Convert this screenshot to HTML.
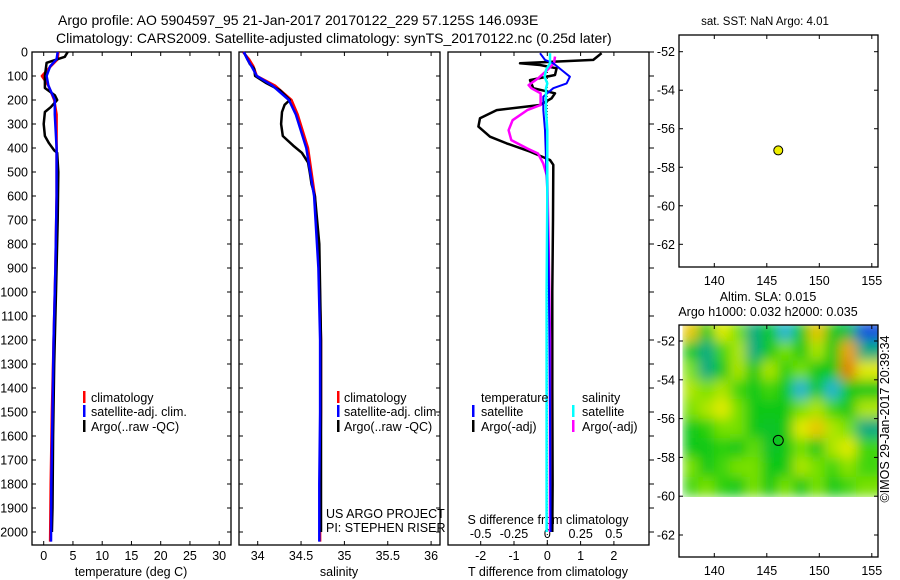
<!DOCTYPE html>
<html><head><meta charset="utf-8"><style>
html,body{margin:0;padding:0;background:#fff;}
svg{display:block;font-family:"Liberation Sans",sans-serif;}
text{fill:#000;}
</style></head><body>
<svg id="fig" width="900" height="580" viewBox="0 0 900 580">
<defs>
<filter id="smooth" x="0" y="0" width="1" height="1"><feGaussianBlur stdDeviation="6" edgeMode="duplicate"/></filter>
<clipPath id="slaClip"><rect x="679" y="325" width="199" height="172"/></clipPath>
</defs>
<text x="58" y="25" font-size="14">Argo profile: AO 5904597_95 21-Jan-2017 20170122_229 57.125S 146.093E</text>
<text x="56" y="43" font-size="14">Climatology: CARS2009. Satellite-adjusted climatology: synTS_20170122.nc (0.25d later)</text>
<g id="g"></g>
</svg>
<script>
// ---------- data ----------
const depthTicks=[0,100,200,300,400,500,600,700,800,900,1000,1100,1200,1300,1400,1500,1600,1700,1800,1900,2000];
const tempTicks=[0,5,10,15,20,25,30];
const salTicks=[34,34.5,35,35.5,36];
const tdiffTicks=[-2,-1,0,1,2];
const sdiffTicks=[-0.5,-0.25,0,0.25,0.5];
const sdiffLabels=["-0.5","-0.25","0","0.25","0.5"];
const lonTicks=[140,145,150,155];
const latTicks=[-52,-54,-56,-58,-60,-62];

const climDepth=[0,30,60,100,140,200,260,400,600,900,1200,1500,1800,2040];
const tempClim=[2.5,2.4,1.2,-0.3,0.8,1.8,2.2,2.2,2.2,2.0,1.7,1.4,1.2,1.1];
const tempSat=[2.4,2.2,1.1,0.5,0.8,1.9,1.9,2.2,2.2,2.0,1.7,1.5,1.3,1.25];
const argoDepth=[0,20,45,100,150,180,200,230,250,300,350,380,410,420,500,700,1000,1300,1600,1900,2000];
const tempArgo=[4.1,3.6,0.5,0.2,0.2,1.9,2.3,1.2,0.2,0.0,0.2,0.9,1.8,2.3,2.5,2.4,2.1,1.8,1.6,1.5,1.4];
const salClim=[33.83,33.9,33.95,33.99,34.2,34.39,34.46,34.58,34.66,34.71,34.73,34.73,34.72,34.72];
const salSat=[33.84,33.88,33.93,33.99,34.17,34.36,34.44,34.56,34.65,34.70,34.72,34.72,34.71,34.71];
const salArgoDepth=[0,50,70,100,130,160,200,220,250,300,350,390,420,460,500,550,600,800,1200,1600,2000];
const salArgo=[33.84,33.91,33.96,33.97,34.1,34.26,34.37,34.31,34.28,34.27,34.29,34.41,34.51,34.58,34.6,34.62,34.66,34.71,34.73,34.73,34.73];

const diffDepth=[5,33,47,54,68,96,117,151,172,193,221,242,276,311,353,381,415,450,470,700,1000,1400,1800,2000];
const tDiffArgo=[1.63,1.38,-0.82,-0.22,0.28,0.23,-0.52,-0.42,0.23,0.13,-0.22,-1.52,-2.02,-2.07,-1.72,-1.22,-0.52,0.08,0.18,0.17,0.15,0.15,0.16,0.15];
const sDiffDepth=[19,47,75,110,138,151,172,221,242,284,326,367,402,423,465,521,800,1200,1600,2000];
const sDiffArgo=[0.058,0.05,0.0,-0.07,-0.14,-0.12,-0.05,-0.05,-0.15,-0.26,-0.29,-0.27,-0.15,-0.07,-0.03,0.0,0.01,0.02,0.02,0.02];
const satDiffDepth=[5,33,47,75,103,131,151,186,242,326,600,1000,1500,2000];
const tDiffSat=[-0.22,-0.07,0.18,0.43,0.68,0.58,0.18,-0.12,-0.12,-0.07,0.0,0.05,0.08,0.1];
const sDiffSat=[0.02,0.02,0.02,-0.01,-0.02,0.0,-0.01,-0.01,-0.01,0.0,0.0,-0.005,-0.005,-0.005];

const argoLon=146.093, argoLat=-57.125;
const slaLon=[137.75,139.25,140.75,142.25,143.75,145.25,146.75,148.25,149.75,151.25,152.75,154.25,155.75];
const slaLat=[-51.5,-52.5,-53.5,-54.5,-55.5,-56.5,-57.5,-58.5,-59.5];
const slaRow0=[2.5,0,2,1,-1,0,-1.5,0,2.5,0,-0.5,-2.5,-2.5];
const slaRow1=[0,-1,0.5,1.5,-1,0,1,0,1.5,0,3,-1,-1];
const slaRow2=[1,-1,0,1.5,0,1.5,0.3,1,0,0,3.5,2,2];
const slaRow3=[1.5,1,1.5,0.5,0,0.5,0,-1.5,0,-1.5,0,0,0];
const slaRow4=[1,1.5,2,1,0,0,0,1,1.5,0.5,0,1.5,1.5];
const slaRow5=[0,0.3,1,1,0,-0.2,0,2,2.5,1.5,1,-1,-1];
const slaRow6=[0,0,0.3,0,0.8,-0.2,0,1,0,1.5,2,0.5,0.5];
const slaRow7=[1,0,0.5,1,1,0,0,1.5,1,0.5,1.2,0.5,0.5];
const slaRow8=[0.5,1,0.3,0,1,0,1,0,1,0,0.5,1,1];
const slaRows=[slaRow0,slaRow1,slaRow2,slaRow3,slaRow4,slaRow5,slaRow6,slaRow7,slaRow8];

// ---------- helpers ----------
const NS="http://www.w3.org/2000/svg";
const G=document.getElementById('g');
function mk(tag,attrs,parent){const e=document.createElementNS(NS,tag);for(const k in attrs)e.setAttribute(k,attrs[k]);(parent||G).appendChild(e);return e;}
const TOP=52, BOT=545;
const yD=d=>TOP+d*0.24;
const xT=v=>43.7+v*5.85;
const xS=v=>257.7+(v-34)*86.7;
const xTd=v=>547.3+v*33.3;
const xSd=v=>547.3+v*133.3;
const xLon=v=>714.3+(v-140)*10.5;
const yLat1=v=>51.7+(-52-v)*19.26;
const yLat2=v=>341+(-52-v)*19.4;

function frame(x0,x1,y0,y1,name){
  const r=mk('rect',{x:x0,y:y0,width:x1-x0,height:y1-y0,fill:'none',stroke:'#000','stroke-width':1.3});
  
  
}
function txt(x,y,s,size,anchor,name){
  const t=mk('text',{x:x,y:y,'font-size':size,'text-anchor':anchor||'start'});
  t.textContent=s;
  
  
  return t;
}
function line(xs,ds,fx,color,w,name,dash){
  let p='';
  for(let i=0;i<xs.length;i++)p+=(i?'L':'M')+fx(xs[i]).toFixed(1)+' '+yD(ds[i]).toFixed(1);
  const a={d:p,fill:'none',stroke:color,'stroke-width':w,'stroke-linejoin':'round'};
  if(dash)a['stroke-dasharray']=dash;
  const e=mk('path',a);
  
  
}
function depthAxis(x0,x1,labels){
  depthTicks.forEach(d=>{
    const y=yD(d);
    const t=mk('line',{x1:x0,x2:x0+4,y1:y,y2:y,stroke:'#000'});
    
    
    const t2=mk('line',{x1:x1-4,x2:x1,y1:y,y2:y,stroke:'#000'});
    
    
    if(labels)txt(x0-4,y+4.5,String(d),12.5,'end','depth-tick-label');
  });
}
function xAxis(ticks,fx,labels,x0,x1,yb,ly,nm){
  ticks.forEach((v,i)=>{
    const x=fx(v);
    const t=mk('line',{x1:x,x2:x,y1:yb,y2:yb-4,stroke:'#000'});
    
    
    const t2=mk('line',{x1:x,x2:x,y1:TOP,y2:TOP+4,stroke:'#000'});
    
    
    txt(x,ly,labels?labels[i]:String(v),12.5,'middle',nm+'-tick-label');
  });
}
function legendBar(x,y,color,name){
  const r=mk('rect',{x:x,y:y-6,width:2.5,height:12,fill:color});
  
  
}

// ---------- panel 1: temperature ----------
frame(32,231,TOP,BOT,'temperature-panel-frame');
depthAxis(32,231,true);
xAxis(tempTicks,xT,null,32,231,BOT,560,'temperature');
txt(131,576,'temperature (deg C)',12.5,'middle','temperature-axis-title');
line(tempClim,climDepth,xT,'#f00',2.5,'temperature-climatology-line');
line(tempArgo,argoDepth,xT,'#000',2.5,'temperature-argo-line');
line(tempSat,climDepth,xT,'#00f',2.5,'temperature-satellite-line');
legendBar(83,397,'#f00','legend-climatology-marker');txt(91,402,'climatology',12.5,'start','legend-climatology');
legendBar(83,411,'#00f','legend-satellite-marker');txt(91,416,'satellite-adj. clim.',12.5,'start','legend-satellite-adj');
legendBar(83,426,'#000','legend-argo-marker');txt(91,431,'Argo(..raw -QC)',12.5,'start','legend-argo');

// ---------- panel 2: salinity ----------
frame(239,440,TOP,BOT,'salinity-panel-frame');
depthAxis(239,440,false);
xAxis(salTicks,xS,null,239,440,BOT,560,'salinity');
txt(339,576,'salinity',12.5,'middle','salinity-axis-title');
line(salClim,climDepth,xS,'#f00',2.5,'salinity-climatology-line');
line(salArgo,salArgoDepth,xS,'#000',2.5,'salinity-argo-line');
line(salSat,climDepth,xS,'#00f',2.5,'salinity-satellite-line');
legendBar(337,397,'#f00','legend-climatology-marker');txt(344,402,'climatology',12.5,'start','legend-climatology');
legendBar(337,411,'#00f','legend-satellite-marker');txt(344,416,'satellite-adj. clim.',12.5,'start','legend-satellite-adj');
legendBar(337,426,'#000','legend-argo-marker');txt(344,431,'Argo(..raw -QC)',12.5,'start','legend-argo');
txt(326,518,'US ARGO PROJECT',12.5,'start','project-label');
txt(326,532,'PI: STEPHEN RISER',12.5,'start','pi-label');

// ---------- panel 3: differences ----------
frame(448,649,TOP,BOT,'difference-panel-frame');
depthTicks.forEach(d=>{const t=mk('line',{x1:649,x2:654,y1:yD(d),y2:yD(d),stroke:'#000'});
  });
tdiffTicks.forEach(v=>{const x=xTd(v);
  const t=mk('line',{x1:x,x2:x,y1:BOT,y2:BOT-4,stroke:'#000'});
  const t2=mk('line',{x1:x,x2:x,y1:TOP,y2:TOP+4,stroke:'#000'});
  txt(x,560,String(v),12.5,'middle','tdiff-tick-label');});
sdiffTicks.forEach((v,i)=>txt(xSd(v),538,sdiffLabels[i],12.5,'middle','sdiff-tick-label'));
txt(548,524,'S difference from climatology',12.5,'middle','sdiff-axis-title');
txt(548,576,'T difference from climatology',12.5,'middle','tdiff-axis-title');
const zl=mk('line',{x1:xTd(0),x2:xTd(0),y1:TOP+20,y2:BOT,stroke:'#000','stroke-width':1,'stroke-dasharray':'1 2'});

line(tDiffArgo,diffDepth,xTd,'#000',2.5,'tdiff-argo-line');
line(sDiffArgo,sDiffDepth,xSd,'#f0f',2.5,'sdiff-argo-line');
line(tDiffSat,satDiffDepth,xTd,'#00f',2,'tdiff-satellite-line');
line(sDiffSat,satDiffDepth,xSd,'#0ff',2.5,'sdiff-satellite-line');
txt(481,402,'temperature',12.5,'start','legend-temperature-header');
legendBar(472,411,'#00f','legend-t-satellite-marker');txt(481,416,'satellite',12.5,'start','legend-t-satellite');
legendBar(472,426,'#000','legend-t-argo-marker');txt(481,431,'Argo(-adj)',12.5,'start','legend-t-argo');
txt(582,402,'salinity',12.5,'start','legend-salinity-header');
legendBar(572,411,'#0ff','legend-s-satellite-marker');txt(582,416,'satellite',12.5,'start','legend-s-satellite');
legendBar(572,426,'#f0f','legend-s-argo-marker');txt(582,431,'Argo(-adj)',12.5,'start','legend-s-argo');

// ---------- map helpers ----------
function mapAxes(y0,y1,yLat,nm){
  lonTicks.forEach(v=>{const x=xLon(v);
    const a=mk('line',{x1:x,x2:x,y1:y0,y2:y0+4,stroke:'#000'});
    const b=mk('line',{x1:x,x2:x,y1:y1,y2:y1-4,stroke:'#000'});
    txt(x,y1+18,String(v),12.5,'middle',nm+'-lon-label');});
  latTicks.forEach(v=>{const y=yLat(v);
    const a=mk('line',{x1:679,x2:683,y1:y,y2:y,stroke:'#000'});
    const b=mk('line',{x1:874,x2:878,y1:y,y2:y,stroke:'#000'});
    txt(675,y+4.5,String(v),12.5,'end',nm+'-lat-label');});
}
// SST map
txt(765,25,'sat. SST: NaN Argo: 4.01',11.5,'middle','sst-map-title');
mapAxes(35,267,yLat1,'sst-map');
frame(679,878,35,267,'sst-map-frame');
const dot=mk('circle',{cx:xLon(argoLon),cy:yLat1(argoLat),r:4.5,fill:'#ee0',stroke:'#000','stroke-width':1});


// SLA map
txt(768,301,'Altim. SLA: 0.015',12.5,'middle','sla-map-title-1');
txt(768,316,'Argo h1000: 0.032 h2000: 0.035',12.5,'middle','sla-map-title-2');
const stops=[[-3,[20,40,210]],[-2,[30,130,230]],[-1.5,[40,180,210]],[-1,[0,170,130]],[0,[10,200,20]],[1,[120,225,0]],[2,[225,235,0]],[3,[240,160,0]],[4,[210,90,0]]];
function cmap(v){for(let i=0;i<stops.length-1;i++){const a=stops[i],b=stops[i+1];if(v<=b[0]||i==stops.length-2){const t=Math.max(0,Math.min(1,(v-a[0])/(b[0]-a[0])));return 'rgb('+a[1].map((c,k)=>Math.round(c+(b[1][k]-c)*t)).join(',')+')';}}}
const clipG=mk('g',{'clip-path':'url(#slaClip)'});


const blurG=mk('g',{filter:'url(#smooth)'},clipG);
slaRows.forEach((row,r)=>{row.forEach((v,c)=>{
  const x0=xLon(slaLon[c]-0.75),x1=xLon(slaLon[c]+0.75);
  const y0=yLat2(slaLat[r]+0.5),y1=yLat2(slaLat[r]-0.5);
  const cell=mk('rect',{x:x0.toFixed(1),y:y0.toFixed(1),width:(x1-x0+0.5).toFixed(1),height:(y1-y0+0.5).toFixed(1),fill:cmap(v)},blurG);
  
  
});});
mapAxes(325,557,yLat2,'sla-map');
frame(679,878,325,557,'sla-map-frame');
const ring=mk('circle',{cx:xLon(argoLon),cy:yLat2(argoLat),r:5,fill:'none',stroke:'#000','stroke-width':1});

const cr=txt(0,0,'©IMOS 29-Jan-2017 20:39:34',12.5,'middle','imos-credit');
cr.setAttribute('transform','translate(889,419) rotate(-90)');
</script>
</body></html>
